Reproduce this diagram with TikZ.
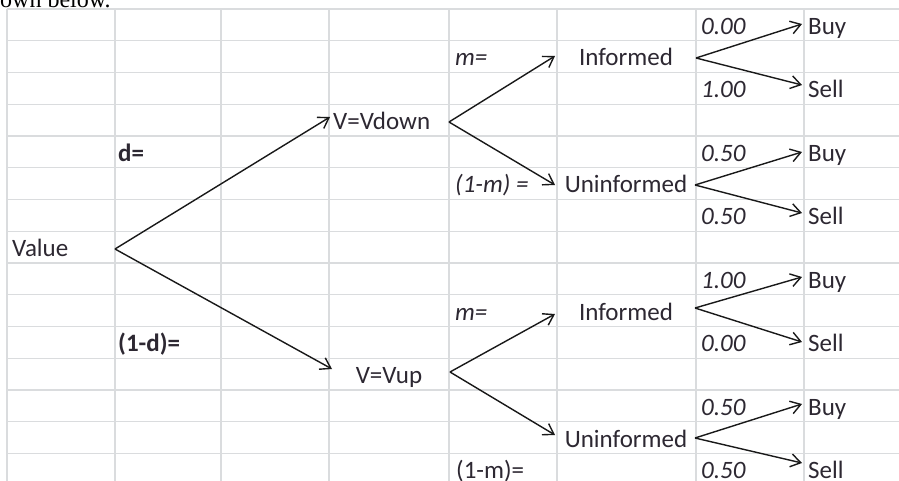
\documentclass[tikz,border=0pt]{standalone}
\usepackage{fontspec}
\setmainfont{Carlito}
\newfontfamily\notefont{Liberation Serif}
\usepackage{tikz}
\usetikzlibrary{positioning}
\usetikzlibrary{arrows.meta, calc}

\definecolor{cellgrid}{RGB}{218,220,222}
\definecolor{celltext}{RGB}{45,40,50}

\begin{document}
\begin{tikzpicture}[x=1pt, y=-1pt, >={Straight Barb[length=10pt,width=13pt,line width=1.4pt]}, font=\fontsize{25}{28}\selectfont]%

            \tikzstyle{cell} = [ inner sep = 0pt, anchor = base west, text = celltext]
            \tikzstyle{mid} = [ inner sep = 0pt, anchor = base, text = celltext]
            \tikzstyle{prob} = [ cell, font = \fontsize{25}{28}\selectfont\itshape]
            \tikzstyle{bold} = [ cell, font = \fontsize{25}{28}\selectfont\bfseries]
            \tikzstyle{gridline} = [ draw = cellgrid, line width = 1.4pt]
            \tikzstyle{branch} = [ ->, draw = black!90, line width = 1.4pt]
        %%
            \useasboundingbox (0,0) rectangle (899,481);
            \clip (0,0) rectangle (899,481);
            \fill[white] (0,0) rectangle (899,481);

            %% Sheet grid
            \foreach \cx in {7,115,221,329,449,557,696,804}
                \draw[gridline] (\cx,9) -- (\cx,481);
            \foreach \r in {0,...,14}
                \draw[gridline] (7,9+31.75*\r) -- (899,9+31.75*\r);

            %% Text line above the sheet
            \node [cell, text = black, font = \fontsize{24}{28}\notefont] (note) at (0,7.5) {own below.};

            %% Root
            \node [cell] (val) at (12,256.5) {Value};
            \node [bold] (dlab) at (118,161.25) {d=};
            \node [bold] (onemd) at (118,351.75) {(1-d)=};

            %% Value states
            \node [cell] (vdown) at (333,129.5) {V=Vdown};
            \node [mid] (vup) at (389,383.5) {V=Vup};

            %% Trader types
            \node [prob] (mtop) at (455,66) {m=};
            \node [prob] (onemtop) at (455,193) {(1-m) =};
            \node [prob] (mbot) at (455,320) {m=};
            \node [cell] (onembot) at (456,478.75) {(1-m)=};
            \node [mid] (inftop) at (626,66) {Informed};
            \node [mid] (unintop) at (626,193) {Uninformed};
            \node [mid] (infbot) at (626,320) {Informed};
            \node [mid] (uninbot) at (626,447) {Uninformed};

            %% Orders
            \node [prob] (p1) at (701,34.25) {0.00};
            \node [prob] (p2) at (701,97.75) {1.00};
            \node [prob] (p3) at (701,161.25) {0.50};
            \node [prob] (p4) at (701,224.75) {0.50};
            \node [prob] (p5) at (701,288.25) {1.00};
            \node [prob] (p6) at (701,351.75) {0.00};
            \node [prob] (p7) at (701,415.25) {0.50};
            \node [prob] (p8) at (701,478.75) {0.50};
            \node [cell] (buy1) at (808,34.25) {Buy};
            \node [cell] (sell1) at (808,97.75) {Sell};
            \node [cell] (buy2) at (808,161.25) {Buy};
            \node [cell] (sell2) at (808,224.75) {Sell};
            \node [cell] (buy3) at (808,288.25) {Buy};
            \node [cell] (sell3) at (808,351.75) {Sell};
            \node [cell] (buy4) at (808,415.25) {Buy};
            \node [cell] (sell4) at (808,478.75) {Sell};

            %% Fork points and arrow ends
            \coordinate (valfork) at (115,249);
            \coordinate (vdownin) at (330,117);
            \coordinate (vupin) at (332,369);
            \coordinate (vdownfork) at (449,122);
            \coordinate (vupfork) at (450,372);
            \coordinate (inftopin) at (555,56);
            \coordinate (unintopin) at (555,185);
            \coordinate (infbotin) at (555,314);
            \coordinate (uninbotin) at (555,435);
            \coordinate (inftopfork) at (696,58);
            \coordinate (unintopfork) at (695,185);
            \coordinate (infbotfork) at (695,308);
            \coordinate (uninbotfork) at (695,438);
            \coordinate (buy1in) at (802,24);
            \coordinate (sell1in) at (802,85);
            \coordinate (buy2in) at (802,152);
            \coordinate (sell2in) at (802,213);
            \coordinate (buy3in) at (802,277);
            \coordinate (sell3in) at (802,342);
            \coordinate (buy4in) at (802,404);
            \coordinate (sell4in) at (802,463);

            %% Branches
            \draw[branch] (valfork) -- (vdownin);
            \draw[branch] (valfork) -- (vupin);
            \draw[branch] (vdownfork) -- (inftopin);
            \draw[branch] (vdownfork) -- (unintopin);
            \draw[branch] (vupfork) -- (infbotin);
            \draw[branch] (vupfork) -- (uninbotin);
            \draw[branch] (inftopfork) -- (buy1in);
            \draw[branch] (inftopfork) -- (sell1in);
            \draw[branch] (unintopfork) -- (buy2in);
            \draw[branch] (unintopfork) -- (sell2in);
            \draw[branch] (infbotfork) -- (buy3in);
            \draw[branch] (infbotfork) -- (sell3in);
            \draw[branch] (uninbotfork) -- (buy4in);
            \draw[branch] (uninbotfork) -- (sell4in);

        \end{tikzpicture}
\end{document}
